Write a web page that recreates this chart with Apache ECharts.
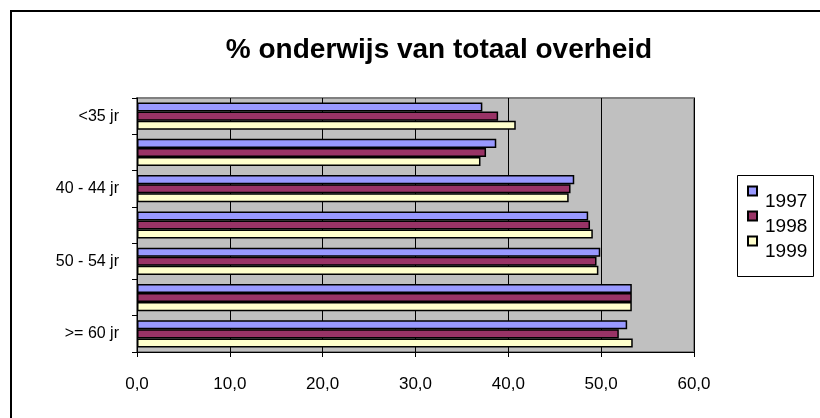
<!DOCTYPE html>
<html>
<head>
<meta charset="utf-8">
<script src="https://cdn.jsdelivr.net/npm/echarts@6/dist/echarts.min.js"></script>
<style>
  html, body { margin: 0; padding: 0; background: #fff; }
  #chart { width: 820px; height: 418px; }
</style>
</head>
<body>
<div id="chart"></div>
<script>
// leeftijdsklassen, van boven naar beneden
const categories = ['<35 jr', '35 - 39 jr', '40 - 44 jr', '45 - 49 jr', '50 - 54 jr', '55 - 59 jr', '>= 60 jr']
const years = ['1997', '1998', '1999']
const values1997 = [37.2, 38.7, 47.1, 48.6, 49.9, 53.3, 52.8]
const values1998 = [38.9, 37.6, 46.7, 48.8, 49.5, 53.3, 51.9]
const values1999 = [40.8, 37.0, 46.5, 49.1, 49.7, 53.3, 53.4]
const xTicks = [0, 10, 20, 30, 40, 50, 60]

const font = '"Liberation Sans", Arial, sans-serif'
const colors = ['#9999FF', '#993366', '#FFFFCC']
const seriesData = [values1997, values1998, values1999]

const chart = echarts.init(document.getElementById('chart'), null, { renderer: 'canvas' })

chart.setOption({
  animation: false,
  textStyle: { fontFamily: font },
  title: {
    text: '% onderwijs van totaal overheid',
    left: 434,
    top: 31,
    textAlign: 'center',
    textStyle: { fontFamily: font, fontWeight: 'bold', fontSize: 28, color: '#000' }
  },
  graphic: [
    {
      type: 'polyline',
      z: -10,
      shape: { points: [[11, 430], [11, 11], [830, 11]] },
      style: { stroke: '#000', lineWidth: 2, fill: null }
    },
    // kader om de legenda
    {
      type: 'rect',
      z: -5,
      shape: { x: 737.5, y: 175.5, width: 76, height: 101 },
      style: { stroke: '#000', lineWidth: 1, fill: '#fff' }
    }
  ],
  legend: {
    orient: 'vertical',
    left: 747,
    top: 169,
    padding: 0,
    itemGap: -19,
    itemWidth: 9,
    itemHeight: 9,
    icon: 'rect',
    data: years,
    // tekst iets lager dan het blokje, zoals in Excel
    formatter: name => '\n' + name,
    textStyle: { fontFamily: font, fontSize: 19, color: '#000', lineHeight: 22, padding: [0, 0, 0, 3] }
  },
  grid: {
    left: 137,
    right: 126,
    top: 98,
    bottom: 66,
    show: true,
    backgroundColor: '#C0C0C0',
    borderColor: '#808080',
    borderWidth: 2
  },
  xAxis: {
    type: 'value',
    min: xTicks[0],
    max: xTicks[xTicks.length - 1],
    interval: 10,
    axisLine: { show: true, lineStyle: { color: '#000', width: 1 } },
    axisTick: { show: true, length: 5, lineStyle: { color: '#000' } },
    axisLabel: {
      margin: 24,
      fontSize: 17,
      color: '#000',
      fontFamily: font,
      formatter: v => v.toFixed(1).replace('.', ',')
    },
    splitLine: { show: true, lineStyle: { color: '#000', width: 1 } }
  },
  yAxis: {
    type: 'category',
    inverse: true,
    data: categories,
    axisLine: { show: true, lineStyle: { color: '#000', width: 1 } },
    axisTick: { show: true, interval: 0, length: 5, lineStyle: { color: '#000' } },
    axisLabel: { interval: 1, margin: 18, fontSize: 16, color: '#000', fontFamily: font },
    splitLine: { show: false }
  },
  series: years.map((y, i) => ({
    name: y,
    type: 'bar',
    data: seriesData[i],
    barGap: '0%',
    barCategoryGap: '25%',
    itemStyle: { color: colors[i], borderColor: '#000', borderWidth: 1.5 }
  }))
})
</script>
</body>
</html>
